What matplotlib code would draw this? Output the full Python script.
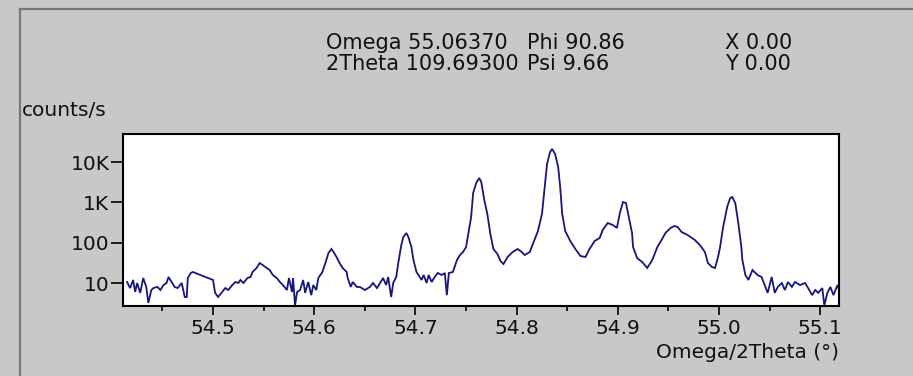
import matplotlib
matplotlib.use("Agg")
import matplotlib.pyplot as plt
from matplotlib.lines import Line2D
from matplotlib.ticker import FixedLocator, FuncFormatter, MultipleLocator

# Omega/2Theta scan (degrees) and measured intensity (counts/s)
two_theta = [
    54.415, 54.418, 54.421, 54.423, 54.425, 54.428, 54.431, 54.434, 54.436, 54.439,
    54.441, 54.445, 54.448, 54.451, 54.454, 54.456, 54.459, 54.462, 54.465, 54.469,
    54.472, 54.474, 54.475, 54.478, 54.480, 54.485, 54.490, 54.495, 54.500, 54.502,
    54.505, 54.509, 54.512, 54.515, 54.519, 54.522, 54.525, 54.527, 54.530, 54.534,
    54.537, 54.539, 54.543, 54.546, 54.549, 54.553, 54.556, 54.559, 54.563, 54.566,
    54.569, 54.573, 54.575, 54.578, 54.579, 54.581, 54.583, 54.586, 54.589, 54.591,
    54.594, 54.597, 54.599, 54.602, 54.604, 54.608, 54.611, 54.614, 54.617, 54.619,
    54.622, 54.625, 54.628, 54.632, 54.633, 54.636, 54.638, 54.642, 54.645, 54.650,
    54.655, 54.658, 54.662, 54.665, 54.668, 54.671, 54.673, 54.676, 54.678, 54.681,
    54.683, 54.686, 54.688, 54.691, 54.693, 54.696, 54.698, 54.701, 54.703, 54.706,
    54.708, 54.711, 54.713, 54.716, 54.719, 54.722, 54.726, 54.729, 54.731, 54.733,
    54.737, 54.741, 54.744, 54.747, 54.750, 54.752, 54.755, 54.757, 54.760, 54.763,
    54.765, 54.768, 54.771, 54.774, 54.777, 54.781, 54.784, 54.787, 54.791, 54.796,
    54.801, 54.805, 54.808, 54.813, 54.816, 54.821, 54.825, 54.828, 54.830, 54.833,
    54.835, 54.838, 54.841, 54.843, 54.845, 54.848, 54.853, 54.858, 54.863, 54.868,
    54.872, 54.877, 54.882, 54.885, 54.890, 54.895, 54.899, 54.902, 54.905, 54.908,
    54.910, 54.914, 54.915, 54.919, 54.924, 54.929, 54.934, 54.939, 54.942, 54.947,
    54.952, 54.956, 54.959, 54.963, 54.969, 54.976, 54.981, 54.986, 54.989, 54.993,
    54.996, 54.999, 55.001, 55.004, 55.008, 55.011, 55.013, 55.016, 55.019, 55.022,
    55.023, 55.026, 55.029, 55.033, 55.036, 55.038, 55.042, 55.045, 55.048, 55.052,
    55.055, 55.058, 55.062, 55.065, 55.068, 55.072, 55.075, 55.080, 55.085, 55.088,
    55.092, 55.095, 55.098, 55.102, 55.104, 55.107, 55.110, 55.113, 55.117, 55.118,
]
counts = [
    10.6, 7.5, 11.9, 6.0, 10.0, 5.7, 13.3, 8.0, 3.2, 6.7,
    7.5, 8.0, 6.7, 8.9, 10.0, 14.1, 10.6, 8.0, 7.5, 10.0,
    4.5, 4.5, 13.3, 17.7, 18.8, 16.7, 14.9, 13.3, 11.9, 5.7,
    4.5, 6.0, 7.5, 6.7, 8.9, 10.6, 10.0, 11.9, 10.0, 13.3,
    14.1, 18.8, 23.6, 31.3, 28.0, 23.6, 21.0, 15.8, 13.3, 10.6,
    8.9, 6.7, 13.3, 6.0, 13.3, 2.8, 6.0, 6.7, 11.9, 5.7,
    10.6, 5.0, 8.9, 6.7, 13.3, 18.8, 31.3, 55.5, 69.8, 58.8,
    44.2, 31.3, 23.6, 18.8, 13.3, 8.0, 10.6, 8.0, 8.0, 6.7,
    8.0, 10.0, 7.5, 10.0, 13.3, 8.9, 14.1, 4.5, 10.0, 14.1,
    31.3, 87.7, 138, 174, 138, 78.2, 37.2, 18.8, 15.8, 11.9,
    15.8, 10.0, 15.8, 10.6, 14.1, 17.7, 15.8, 17.7, 5.0, 17.7,
    18.8, 37.2, 49.5, 58.8, 78.2, 155, 434, 1711, 3030, 4031,
    3208, 1148, 516, 164, 69.8, 52.5, 35.2, 29.6, 44.2, 58.8,
    69.8, 58.8, 49.5, 58.8, 92.9, 195, 516, 2862, 8974, 17820,
    21150, 15890, 7551, 2412, 516, 195, 110, 69.8, 46.8, 44.2,
    69.8, 110, 131, 207, 308, 275, 232, 546, 1023, 966,
    546, 174, 78.2, 41.7, 33.2, 23.6, 37.2, 78.2, 104, 174,
    232, 260, 245, 184, 155, 117, 87.7, 58.8, 31.3, 25.0,
    23.6, 44.2, 78.2, 245, 769, 1286, 1362, 966, 308, 78.2,
    37.2, 15.8, 11.9, 21.0, 17.7, 15.8, 14.1, 8.9, 5.7, 14.1,
    5.7, 8.0, 10.0, 6.7, 10.6, 8.0, 10.6, 8.9, 10.0, 7.5,
    5.0, 6.7, 5.7, 7.5, 2.8, 5.7, 8.0, 5.0, 8.9, 7.5,
]

y_ticks = [10, 100, 1000, 10000]
y_tick_labels = ["10", "100", "1K", "10K"]

header_rows = [
    ("Omega 55.06370", "Phi 90.86", "X 0.00"),
    ("2Theta 109.69300", "Psi 9.66", "Y 0.00"),
]

W, H = 913, 376
panel_gray = "#c8c8c8"
trace_color = "#16167c"
font = ["DejaVu Sans"]
header_size = 15
label_size = 14.5

fig = plt.figure(figsize=(W / 100, H / 100), dpi=100, facecolor=panel_gray)


def fx(px):
    return px / W


def fy(py):
    return 1 - py / H


# plot box in pixel coordinates
left, right, top, bottom = 123, 839, 134, 306
ax = fig.add_axes([fx(left), fy(bottom), fx(right - left), (bottom - top) / H])
ax.set_facecolor("white")

ax.plot(two_theta, counts, color=trace_color, lw=1.3, solid_joinstyle="miter")

ax.set_yscale("log")
ax.set_ylim(2.69, 49800)
ax.set_xlim(54.411, 55.1185)


def y_label(v, pos):
    r = round(v)
    return y_tick_labels[y_ticks.index(r)] if r in y_ticks else ""


ax.yaxis.set_major_locator(FixedLocator(y_ticks))
ax.yaxis.set_major_formatter(FuncFormatter(y_label))
ax.yaxis.set_minor_locator(FixedLocator([]))
ax.xaxis.set_major_locator(MultipleLocator(0.1))
ax.xaxis.set_minor_locator(MultipleLocator(0.05))
ax.xaxis.set_major_formatter(FuncFormatter(lambda v, p: f"{v:.1f}"))

ax.tick_params(axis="both", which="major", direction="out", color="black",
               labelcolor="#111111", labelsize=label_size, width=1.2)
ax.tick_params(axis="x", which="major", length=6.5, pad=3)
ax.tick_params(axis="x", which="minor", length=3.6, width=1.2, direction="out")
ax.tick_params(axis="y", which="major", length=8.6, pad=1.2)
for lab in ax.get_xticklabels() + ax.get_yticklabels():
    lab.set_family(font)

for s in ax.spines.values():
    s.set_color("black")
    s.set_linewidth(1.5)

# panel border lines
fig.add_artist(Line2D([fx(20), 1], [fy(9), fy(9)], color="#777777", lw=1.6))
fig.add_artist(Line2D([fx(20), fx(20)], [fy(9), 0], color="#777777", lw=1.6))

# header readout
col_x = [326, 527, 725]
row_y = [43, 64]
for r, row in enumerate(header_rows):
    for c, txt in enumerate(row):
        fig.text(fx(col_x[c]), fy(row_y[r]), txt, ha="left", va="center",
                 fontsize=header_size, family=font, color="#111111")

fig.text(fx(22), fy(111), "counts/s", ha="left", va="center",
         fontsize=label_size, family=font, color="#111111")
fig.text(fx(839), fy(353), "Omega/2Theta (°)", ha="right", va="center",
         fontsize=label_size, family=font, color="#111111")

fig.savefig("out.png", dpi=100, facecolor=panel_gray)
